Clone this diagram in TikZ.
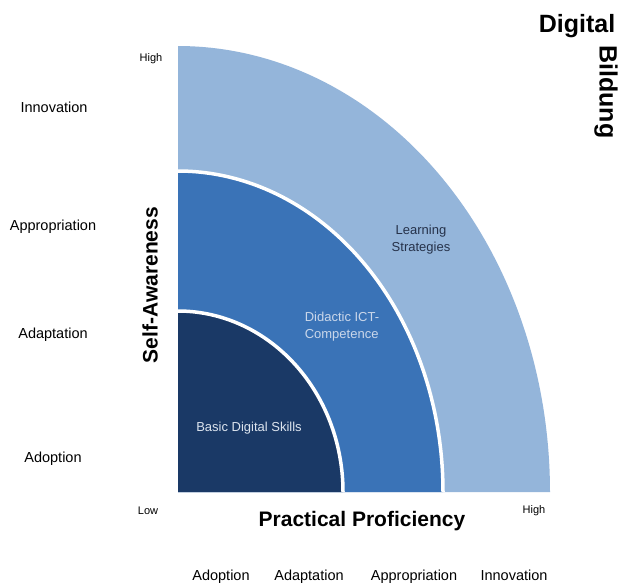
\documentclass[tikz,border=0pt]{standalone}
\usepackage{fontspec}
\setmainfont{Liberation Sans}
\begin{document}
\begin{tikzpicture}[x=1pt,y=-1pt,
  lbl/.style={inner sep=0pt, anchor=base, font=\fontsize{14.5}{16}\selectfont},
  tick/.style={inner sep=0pt, font=\fontsize{11}{12}\selectfont},
  axis/.style={inner sep=0pt, font=\fontsize{21}{24}\selectfont\bfseries},
  title/.style={inner sep=0pt, font=\fontsize{25}{28}\selectfont\bfseries},
  inner/.style={inner sep=0pt, align=left, font=\fontsize{13}{17}\selectfont},
  gap/.style={draw=white, line width=3.5pt}
]
\definecolor{bandLight}{HTML}{94B5DA}
\definecolor{bandMid}{HTML}{3A73B7}
\definecolor{bandDark}{HTML}{1A3966}
\definecolor{txtLight}{HTML}{DCE4EE}
\definecolor{txtMid}{HTML}{CAD7EA}
\definecolor{txtDark}{HTML}{26324A}
\fill[white] (0,0) rectangle (620,584);
\useasboundingbox (0,0) rectangle (620,584);

% corner of the quarter ellipses
\coordinate (O) at (178,492);

% outer band: Learning Strategies
\fill[bandLight] (O) -- plot[domain=0:90, samples=90] ({178+372*cos(\x)},{492-446*sin(\x)}) -- cycle;
% middle band: Didactic ICT-Competence
\fill[bandMid] (O) -- plot[domain=0:90, samples=90] ({178+265*cos(\x)},{492-321*sin(\x)}) -- cycle;
\draw[gap] plot[domain=0:90, samples=90] ({178+265*cos(\x)},{492-321*sin(\x)});
% inner core: Basic Digital Skills
\fill[bandDark] (O) -- plot[domain=0:90, samples=90] ({178+165*cos(\x)},{492-181*sin(\x)}) -- cycle;
\draw[gap] plot[domain=0:90, samples=90] ({178+165*cos(\x)},{492-181*sin(\x)});

% region labels
\node[inner, text=txtLight] (basic) at (249,428) {Basic Digital Skills};
\node[inner, text=txtMid] (didactic) at (342,327) {Didactic ICT-\\Competence};
\node[inner, text=txtDark, align=center] (learning) at (421,240) {Learning\\Strategies};

% axis end marks
\node[tick] (yhigh) at (151,59) {High};
\node[tick] (xlow) at (148,511) {Low};
\node[tick] (xhigh) at (534,511) {High};

% axis titles
\node[axis, rotate=90] (sa) at (150,285) {Self-Awareness};
\node[axis] (pp) at (362,521) {Practical Proficiency};

% title
\node[title] (digital) at (577,26) {Digital};
\node[title, rotate=-90] (bildung) at (606,92) {Bildung};

% levels on the vertical axis
\node[lbl] (v1) at (53,462) {Adoption};
\node[lbl] (v2) at (53,338) {Adaptation};
\node[lbl] (v3) at (53,230) {Appropriation};
\node[lbl] (v4) at (54,112) {Innovation};

% levels on the horizontal axis
\node[lbl] (h1) at (221,580) {Adoption};
\node[lbl] (h2) at (309,580) {Adaptation};
\node[lbl] (h3) at (414,580) {Appropriation};
\node[lbl] (h4) at (514,580) {Innovation};
\end{tikzpicture}
\end{document}
